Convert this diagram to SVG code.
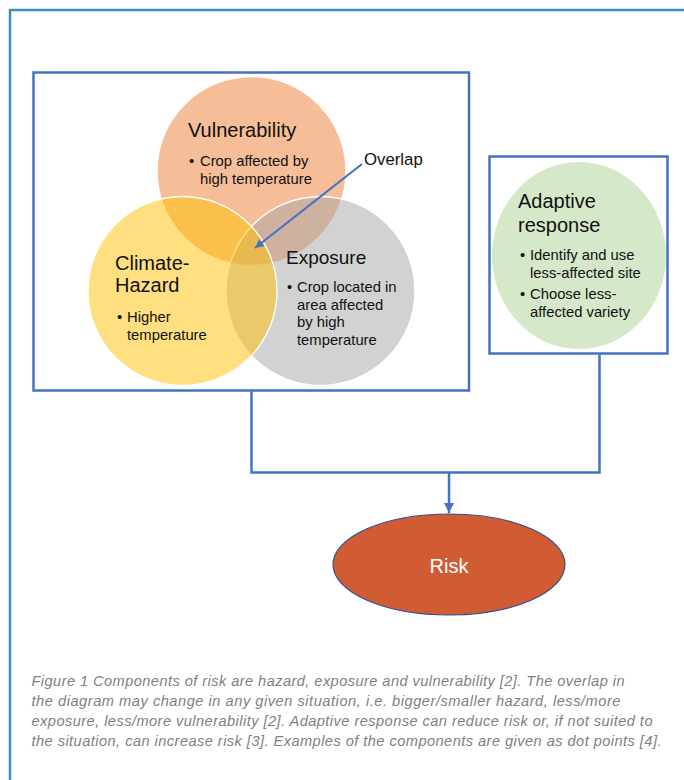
<svg xmlns="http://www.w3.org/2000/svg" width="684" height="780" viewBox="0 0 684 780">
<defs>
<style>
.t{font-family:"Liberation Sans",Arial,sans-serif;fill:#111}
.h{font-size:20px}
.b{font-size:14.8px}
.box{fill:none;stroke:#4472C4;stroke-width:2.5}
.c{stroke:#fff;stroke-width:1.3}
.con{fill:none;stroke:#4472C4;stroke-width:2.5}
.cap{font-family:"Liberation Sans",Arial,sans-serif;font-style:italic;font-size:14.6px;fill:#808080}
</style>
<marker id="ah" viewBox="0 0 10 10" refX="10" refY="5" markerWidth="4" markerHeight="4" markerUnits="strokeWidth" orient="auto">
<path d="M0,0 L10,5 L0,10 z" fill="#4472C4"/>
</marker>
<marker id="ah2" viewBox="0 0 10 10" refX="10" refY="5" markerWidth="4.2" markerHeight="4.2" markerUnits="strokeWidth" orient="auto">
<path d="M0,0 L10,5 L0,10 z" fill="#4472C4"/>
</marker>
</defs>
<rect width="684" height="780" fill="#fff"/>
<path d="M10,790 V10 H700" fill="none" stroke="#3A8FBE" stroke-width="2.5"/>

<g id="main-box">
<rect class="box" x="33.5" y="72.5" width="435.5" height="318"/>
</g>

<g id="vulnerability">
<circle class="c" cx="251.5" cy="171" r="94.5" fill="#ED7D31" fill-opacity="0.5"/>
</g>
<g id="exposure">
<circle class="c" cx="320.5" cy="291" r="94.5" fill="#A5A5A5" fill-opacity="0.5"/>
</g>
<g id="climate-hazard">
<circle class="c" cx="182.5" cy="291" r="94.5" fill="#FFC000" fill-opacity="0.5"/>
</g>

<g id="vulnerability-text">
<text class="t h" x="188" y="137">Vulnerability</text>
<text class="t b" x="189" y="166">•</text>
<text class="t b" x="200" y="166">Crop affected by</text>
<text class="t b" x="200" y="183.5">high temperature</text>
</g>
<g id="hazard-text">
<text class="t h" x="115" y="270">Climate-</text>
<text class="t h" x="115" y="292">Hazard</text>
<text class="t b" x="117" y="322">•</text>
<text class="t b" x="127" y="322">Higher</text>
<text class="t b" x="127" y="339.5">temperature</text>
</g>
<g id="exposure-text">
<text class="t h" x="286" y="264" style="font-size:19px">Exposure</text>
<text class="t b" x="287" y="292">•</text>
<text class="t b" x="297" y="292">Crop located in</text>
<text class="t b" x="297" y="309.5">area affected</text>
<text class="t b" x="297" y="327">by high</text>
<text class="t b" x="297" y="344.5">temperature</text>
</g>

<g id="overlap">
<text class="t" x="364" y="165" style="font-size:16.8px">Overlap</text>
</g>

<g id="adaptive-response">
<rect class="box" x="489.5" y="156.5" width="178" height="197"/>
<ellipse cx="579" cy="255.5" rx="87" ry="93.5" fill="#D5E8CA"/>
<text class="t h" x="518" y="208">Adaptive</text>
<text class="t h" x="518" y="232">response</text>
<text class="t b" x="520" y="260">•</text>
<text class="t b" x="530" y="260">Identify and use</text>
<text class="t b" x="530" y="277.5">less-affected site</text>
<text class="t b" x="520" y="299">•</text>
<text class="t b" x="530" y="299">Choose less-</text>
<text class="t b" x="530" y="316.5">affected variety</text>
</g>

<g id="risk">
<ellipse cx="449" cy="564.5" rx="116" ry="50.5" fill="#D15B33" stroke="#2F528F" stroke-width="1.2"/>
<text class="t" x="449" y="572.5" text-anchor="middle" style="font-size:20px;fill:#fff">Risk</text>
</g>

<g id="connectors">
<line x1="362" y1="164" x2="255" y2="248" stroke="#4472C4" stroke-width="2.2" marker-end="url(#ah)"/>
<path class="con" d="M251.5,391.5 V472.5 H599.5 V354.5"/>
<line x1="449" y1="472.5" x2="449" y2="513" stroke="#4472C4" stroke-width="2.5" marker-end="url(#ah2)"/>
</g>

<g id="caption">
<text class="cap" x="31.5" y="686" textLength="593" lengthAdjust="spacing">Figure 1 Components of risk are hazard, exposure and vulnerability [2]. The overlap in</text>
<text class="cap" x="31.5" y="706" textLength="589" lengthAdjust="spacing">the diagram may change in any given situation, i.e. bigger/smaller hazard, less/more</text>
<text class="cap" x="31.5" y="726" textLength="621" lengthAdjust="spacing">exposure, less/more vulnerability [2]. Adaptive response can reduce risk or, if not suited to</text>
<text class="cap" x="31.5" y="746" textLength="630" lengthAdjust="spacing">the situation, can increase risk [3]. Examples of the components are given as dot points [4].</text>
</g>
</svg>
